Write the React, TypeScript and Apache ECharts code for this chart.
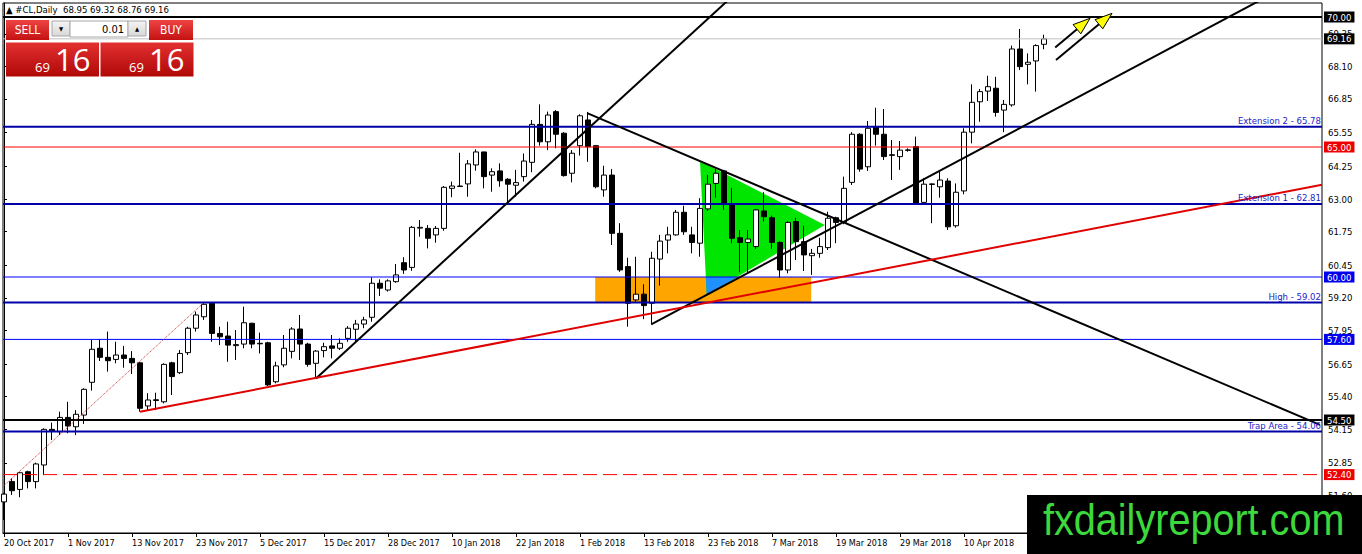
import React, { useEffect, useRef } from "react";
import * as echarts from "echarts";

const FONT = "Tahoma, 'DejaVu Sans Condensed', 'DejaVu Sans', sans-serif";
const MONTHS = ["Jan", "Feb", "Mar", "Apr", "May", "Jun", "Jul", "Aug", "Sep", "Oct", "Nov", "Dec"];

// daily bars, 20 Oct 2017 .. 24 Apr 2018
const opens = [
  51.35, 52.13, 51.83, 52.51, 52.13, 52.77, 54.14, 54.05, 54.6, 54.24, 54.69, 55.95, 57.26, 56.91, 56.83, 57.0,
  56.87, 56.7, 55.04, 55.25, 55.2, 56.7, 56.32, 57.09, 58.03, 58.47, 58.99, 57.83, 57.73, 57.36, 57.42, 58.22,
  57.45, 57.47, 55.97, 56.62, 57.14, 58.0, 57.42, 56.68, 57.17, 57.35, 57.26, 57.64, 57.99, 58.19, 58.45, 59.76,
  59.5, 59.82, 60.55, 60.37, 61.88, 61.87, 61.62, 61.87, 63.41, 63.48, 63.58, 64.31, 64.81, 63.92, 64.08, 63.76,
  63.53, 63.86, 64.41, 65.87, 65.2, 66.36, 65.53, 63.99, 65.05, 66.04, 65.05, 63.35, 63.92, 61.68, 60.4, 59.12,
  59.34, 58.99, 60.69, 61.42, 61.62, 62.49, 61.62, 61.3, 62.62, 63.6, 64.08, 62.77, 61.51, 61.33, 61.17, 62.54,
  62.28, 61.33, 60.27, 62.13, 61.36, 60.82, 60.91, 61.13, 62.28, 62.1, 63.64, 65.49, 64.24, 65.78, 65.49, 64.7,
  64.63, 64.87, 65.01, 62.87, 63.56, 63.47, 63.69, 61.97, 63.31, 65.57, 66.74, 67.15, 67.26, 66.42, 66.62, 68.77,
  68.18, 68.31, 68.95,
];
const highs = [
  51.7, 52.26, 52.51, 52.55, 52.86, 54.18, 54.4, 54.82, 55.2, 54.88, 55.72, 57.58, 57.6, 57.9, 57.51, 57.35,
  57.15, 56.74, 55.53, 55.55, 56.68, 56.74, 57.19, 58.09, 58.67, 58.99, 59.03, 58.09, 58.28, 57.96, 58.86, 58.24,
  57.86, 57.51, 56.74, 57.77, 58.07, 58.54, 57.47, 57.19, 57.47, 57.77, 57.64, 58.11, 58.35, 58.47, 59.99, 59.91,
  59.91, 60.5, 60.76, 61.96, 62.19, 62.0, 61.96, 63.5, 63.67, 64.78, 64.5, 64.91, 64.82, 64.18, 64.37, 63.8,
  64.12, 64.75, 66.04, 66.64, 66.36, 66.42, 65.57, 64.88, 66.26, 66.35, 65.08, 64.28, 64.15, 62.07, 60.74, 60.78,
  59.72, 60.97, 61.62, 61.93, 62.58, 62.74, 61.93, 63.03, 63.92, 64.15, 64.12, 63.43, 61.81, 61.81, 62.62, 63.26,
  62.36, 61.38, 62.15, 62.28, 61.97, 61.08, 61.51, 62.51, 62.32, 63.86, 65.57, 65.53, 66.0, 66.51, 66.46, 65.27,
  65.23, 64.95, 65.4, 63.8, 63.6, 64.05, 63.8, 63.6, 65.72, 67.41, 67.23, 67.74, 67.7, 66.81, 68.9, 69.54,
  68.6, 68.95, 69.32,
];
const lows = [
  50.65, 51.62, 51.53, 51.87, 51.87, 52.38, 53.73, 53.92, 53.99, 53.92, 54.35, 55.63, 56.77, 56.36, 56.68, 56.51,
  56.27, 54.82, 54.88, 54.88, 55.14, 55.46, 56.27, 57.0, 57.9, 58.35, 57.51, 57.38, 56.74, 56.81, 57.26, 57.26,
  57.06, 55.81, 55.91, 56.53, 56.87, 56.81, 56.55, 56.1, 56.91, 56.87, 57.19, 57.51, 57.51, 58.03, 58.28, 59.27,
  59.44, 59.78, 60.12, 60.24, 61.55, 61.1, 61.32, 61.78, 63.07, 63.47, 63.09, 64.09, 63.41, 63.28, 63.47, 62.83,
  63.09, 63.67, 64.03, 65.05, 64.88, 64.95, 63.86, 63.64, 64.67, 64.43, 63.41, 63.09, 61.23, 60.2, 58.09, 59.05,
  58.38, 58.18, 59.67, 60.91, 61.59, 61.62, 60.91, 60.78, 62.54, 63.05, 62.58, 61.3, 60.18, 60.18, 61.08, 62.13,
  61.08, 59.97, 60.14, 60.65, 60.23, 60.08, 60.74, 61.04, 61.3, 62.03, 63.54, 64.05, 64.08, 65.05, 64.5, 63.73,
  64.12, 64.82, 62.83, 62.83, 62.07, 63.05, 61.81, 61.9, 63.18, 65.14, 65.97, 66.77, 66.17, 65.57, 66.55, 67.96,
  67.41, 67.13, 68.76,
];
const closes = [
  51.65, 51.78, 52.47, 52.13, 52.81, 54.14, 54.09, 54.6, 54.27, 54.72, 55.68, 57.22, 56.91, 56.78, 57.0, 56.87,
  56.7, 54.95, 55.27, 55.28, 56.64, 56.17, 57.06, 58.03, 58.54, 58.95, 57.83, 57.7, 57.38, 57.4, 58.24, 57.42,
  57.43, 55.85, 56.58, 57.26, 58.0, 57.42, 56.64, 57.15, 57.32, 57.26, 57.45, 58.03, 58.19, 58.35, 59.76, 59.57,
  59.85, 60.08, 60.27, 61.91, 61.91, 61.49, 61.87, 63.45, 63.5, 63.5, 64.35, 64.81, 63.86, 64.05, 63.7, 63.57,
  63.63, 64.46, 65.87, 65.2, 66.23, 65.49, 63.9, 64.76, 66.2, 65.01, 63.47, 63.92, 61.68, 60.27, 58.99, 59.34,
  58.9, 60.72, 61.38, 61.62, 62.49, 61.74, 61.33, 62.64, 63.57, 63.99, 62.83, 61.49, 61.33, 61.46, 62.58, 62.32,
  61.33, 60.27, 62.1, 61.36, 60.85, 60.91, 61.17, 62.26, 62.1, 63.41, 65.49, 64.15, 65.72, 65.49, 64.63, 64.68,
  64.88, 64.89, 62.83, 63.57, 63.58, 63.73, 61.93, 63.26, 65.57, 66.72, 67.13, 67.32, 66.33, 66.64, 68.77, 68.09,
  68.26, 68.9, 69.16,
];

const holidays = ["2017-12-25", "2018-01-01"];
const slotCount = 166;
const yTicks = [51.6, 52.85, 54.15, 55.4, 56.65, 57.95, 59.2, 60.45, 61.75, 63.0, 64.25, 65.55, 66.85, 68.1, 69.35];

// horizontal levels
const levels = [
  { value: 70.0, kind: "blackBox" },
  { value: 69.16, kind: "bid" },
  { value: 65.78, kind: "blueText", text: "Extension 2 - 65.78" },
  { value: 65.0, kind: "redBox" },
  { value: 62.81, kind: "blueText", text: "Extension 1 - 62.81" },
  { value: 60.0, kind: "blueBox" },
  { value: 59.02, kind: "blueText", text: "High - 59.02" },
  { value: 57.6, kind: "blueBox" },
  { value: 54.5, kind: "blackBox" },
  { value: 54.06, kind: "blueText", text: "Trap Area - 54.06" },
  { value: 52.4, kind: "redDash" },
];

// trend lines [bar index, price]
const steepLine = [[39, 56.1], [94, 71.63]];
const fallingLine = [[72.9, 66.3], [164.5, 54.31]];
const risingLine = [[80.9, 58.18], [160, 71.13]];
const redLine = [[17, 54.82], [164.75, 63.55]];
const channelLine = [[0, 51.98], [24.9, 58.99]];

// filled zones
const orangeZone = [[73.9, 60.0], [100.9, 60.0], [100.9, 59.02], [73.9, 59.02]];
const greenZone = [[87, 64.46], [102.6, 62.0], [87.84, 59.31]];
const blueZone = [[87.73, 60.0], [91.63, 60.0], [87.84, 59.31]];

const arrowsFrom = [[131.4, 68.83], [131.5, 68.35]];
const arrowsTo = [[135.75, 69.95], [138.5, 70.14]];

const X_MIN = -0.125;
const X_MAX = X_MIN + 1319 / 8;
const Y_MAX = 70 + 14 / 26;
const Y_MIN = Y_MAX - 530 / 26;

function buildDates(): string[] {
  const out: string[] = [];
  const d = new Date(Date.UTC(2017, 9, 20));
  while (out.length < slotCount) {
    const iso = d.toISOString().slice(0, 10);
    const wd = d.getUTCDay();
    if (wd !== 0 && wd !== 6 && !holidays.includes(iso)) {
      out.push(`${d.getUTCDate()} ${MONTHS[d.getUTCMonth()]} ${d.getUTCFullYear()}`);
    }
    d.setUTCDate(d.getUTCDate() + 1);
  }
  return out;
}

const levelStyle: Record<string, any> = {
  blackBox: { line: { color: "#000000", width: 2, type: "solid" }, box: "#000" },
  bid: { line: { color: "#c0c0c0", width: 1, type: "solid" }, box: "#000" },
  redBox: { line: { color: "#ff0000", width: 1, type: "solid" }, box: "#ee0000" },
  blueBox: { line: { color: "#0000ff", width: 1, type: "solid" }, box: "#0000ee" },
  blueText: { line: { color: "#0000a8", width: 2, type: "solid" } },
  redDash: { line: { color: "#ff0000", width: 1, type: [14, 6] }, box: "#ee0000" },
};

const App: React.FC = () => {
  const chartRef = useRef<HTMLDivElement>(null);

  useEffect(() => {
    if (!chartRef.current) return;
    document.body.style.margin = "0";
    const chart = echarts.init(chartRef.current, null, { renderer: "svg" });

    const dates = buildDates();
    const xTicks: number[] = [];
    for (let i = 0; i < slotCount - 1; i += 8) xTicks.push(i);

    const candles = opens.map((o, i) => [i, o, closes[i], lows[i], highs[i]]);

    const redGrad = new echarts.graphic.LinearGradient(0, 0, 0, 1, [
      { offset: 0, color: "#ee4444" },
      { offset: 1, color: "#c41212" },
    ]);
    const bigGrad = new echarts.graphic.LinearGradient(0, 0, 0, 1, [
      { offset: 0, color: "#e23030" },
      { offset: 1, color: "#b00808" },
    ]);
    const greyGrad = new echarts.graphic.LinearGradient(0, 0, 0, 1, [
      { offset: 0, color: "#f4f4f4" },
      { offset: 1, color: "#d8d8d8" },
    ]);

    const trend = (data: number[][], color: string, width: number, type: any = "solid", z = 4) => ({
      type: "line",
      data,
      z,
      showSymbol: false,
      silent: true,
      clip: true,
      lineStyle: { color, width, type, opacity: 1 },
    });

    const zones = [
      { pts: orangeZone, fill: "#ffa500" },
      { pts: greenZone, fill: "#00e600" },
      { pts: blueZone, fill: "#1e90ff" },
    ];

    const txt = (x: number, y: number, text: string, fontSize: number, fill: string, align = "left", extra: any = {}) => ({
      type: "text",
      x,
      y,
      z: 100,
      silent: true,
      style: { text, fill, fontSize, fontFamily: FONT, align, verticalAlign: "middle", ...extra },
    });

    // level lines as plain line series across the whole plot
    const levelSeries = levels.map((lv) => {
      const st = levelStyle[lv.kind].line;
      return trend([[X_MIN, lv.value], [X_MAX, lv.value]], st.color, st.width, st.type, 3);
    });

    const option = {
      animation: false,
      backgroundColor: "#fff",
      grid: { left: 3, top: 3, right: 40, bottom: 21, show: true, borderColor: "#000", borderWidth: 1 },
      xAxis: {
        type: "value",
        min: X_MIN,
        max: X_MAX,
        splitLine: { show: false },
        axisLine: { show: true, lineStyle: { color: "#000", width: 1 } },
        axisTick: { show: true, length: 4, customValues: xTicks, lineStyle: { color: "#000" } },
        axisLabel: {
          customValues: xTicks,
          formatter: (v: number) => dates[Math.round(v)] ?? "",
          align: "left",
          margin: 5,
          color: "#000",
          fontSize: 9,
          fontFamily: FONT,
        },
      },
      yAxis: {
        type: "value",
        position: "right",
        min: Y_MIN,
        max: Y_MAX,
        splitLine: { show: false },
        axisLine: { show: true, lineStyle: { color: "#000", width: 1 } },
        axisTick: { show: true, length: 3, customValues: yTicks, lineStyle: { color: "#000" } },
        axisLabel: {
          customValues: yTicks,
          formatter: (v: number) => v.toFixed(2),
          margin: 6,
          color: "#000",
          fontSize: 9.5,
          fontFamily: FONT,
        },
      },
      series: [
        {
          type: "custom",
          z: 1,
          silent: true,
          data: zones.map((z) => z.pts[0]),
          renderItem: (params: any, api: any) => {
            const zone = zones[params.dataIndex];
            return {
              type: "polygon",
              shape: { points: zone.pts.map((p) => api.coord(p)) },
              style: { fill: zone.fill },
            };
          },
        },
        {
          type: "candlestick",
          z: 2,
          silent: true,
          data: candles,
          encode: { x: 0, y: [1, 2, 3, 4] },
          barWidth: 5,
          itemStyle: {
            color: "#ffffff",
            color0: "#000000",
            borderColor: "#000000",
            borderColor0: "#000000",
            borderWidth: 1,
          },
          markLine: {
            symbol: ["none", "none"],
            silent: true,
            animation: false,
            z: 5,
            data: levels.map((lv) => {
              const st = levelStyle[lv.kind];
              const label =
                lv.kind === "blueText"
                  ? {
                      show: true,
                      position: "insideEndTop",
                      distance: 1,
                      formatter: lv.text,
                      color: "#2222c8",
                      fontSize: 9.5,
                      fontFamily: FONT,
                    }
                  : {
                      show: true,
                      position: "end",
                      distance: 2,
                      formatter: lv.value.toFixed(2),
                      color: "#fff",
                      backgroundColor: st.box,
                      padding: [1, 3, 0, 3],
                      lineHeight: 10,
                      fontSize: 9.5,
                      fontFamily: FONT,
                    };
              // the line itself is drawn by a line series; keep only the label here
              return { yAxis: lv.value, lineStyle: { color: "rgba(0,0,0,0)", width: 1 }, label };
            }),
          },
        },
        ...levelSeries,
        trend(steepLine, "#000", 2),
        trend(fallingLine, "#000", 2),
        trend(risingLine, "#000", 2),
        trend(redLine, "#e00000", 2),
        trend(channelLine, "#d03030", 1, "dotted"),
        {
          type: "custom",
          z: 6,
          silent: true,
          data: arrowsFrom,
          renderItem: (params: any, api: any) => {
            const p0 = api.coord(arrowsFrom[params.dataIndex]);
            const p1 = api.coord(arrowsTo[params.dataIndex]);
            const dx = p1[0] - p0[0];
            const dy = p1[1] - p0[1];
            const len = Math.hypot(dx, dy);
            const ux = dx / len;
            const uy = dy / len;
            const headLen = 17;
            const headW = 6;
            const bx = p1[0] - ux * headLen;
            const by = p1[1] - uy * headLen;
            return {
              type: "group",
              children: [
                {
                  type: "line",
                  shape: { x1: p0[0], y1: p0[1], x2: bx, y2: by },
                  style: { stroke: "#000", lineWidth: 2 },
                },
                {
                  type: "polygon",
                  shape: {
                    points: [p1, [bx - uy * headW, by + ux * headW], [bx + uy * headW, by - ux * headW]],
                  },
                  style: { fill: "#ffff00", stroke: "#000", lineWidth: 1 },
                },
              ],
            };
          },
        },
      ],
      graphic: [
        txt(6, 9, "▲ #CL,Daily  68.95 69.32 68.76 69.16", 9.5, "#000"),
        // one-click trading panel
        { type: "rect", z: 100, silent: true, shape: { x: 6, y: 20, width: 43, height: 20 }, style: { fill: redGrad } },
        { type: "rect", z: 100, silent: true, shape: { x: 149, y: 20, width: 44, height: 20 }, style: { fill: redGrad } },
        { type: "rect", z: 100, silent: true, shape: { x: 52, y: 21, width: 18, height: 15 }, style: { fill: greyGrad, stroke: "#a8a8a8", lineWidth: 1 } },
        { type: "rect", z: 100, silent: true, shape: { x: 70, y: 21, width: 58, height: 16 }, style: { fill: "#fff", stroke: "#a8a8a8", lineWidth: 1 } },
        { type: "rect", z: 100, silent: true, shape: { x: 128, y: 21, width: 18, height: 15 }, style: { fill: greyGrad, stroke: "#a8a8a8", lineWidth: 1 } },
        { type: "rect", z: 100, silent: true, shape: { x: 6, y: 42.5, width: 93, height: 34 }, style: { fill: bigGrad } },
        { type: "rect", z: 100, silent: true, shape: { x: 100.5, y: 42.5, width: 93, height: 34 }, style: { fill: bigGrad } },
        txt(27.5, 30, "SELL", 12, "#fff", "center"),
        txt(171, 30, "BUY", 12, "#fff", "center"),
        txt(61, 28.5, "▼", 6, "#000", "center"),
        txt(137, 28.5, "▲", 6, "#000", "center"),
        txt(124, 29, "0.01", 11, "#000", "right"),
        txt(35, 66.5, "69", 13, "#fff", "left", { fontFamily: "'Open Sans', 'Liberation Sans', sans-serif" }),
        txt(55, 58.5, "16", 31, "#fff", "left", { fontFamily: "'Open Sans', 'Liberation Sans', sans-serif" }),
        txt(129, 66.5, "69", 13, "#fff", "left", { fontFamily: "'Open Sans', 'Liberation Sans', sans-serif" }),
        txt(149, 58.5, "16", 31, "#fff", "left", { fontFamily: "'Open Sans', 'Liberation Sans', sans-serif" }),
        // watermark
        { type: "rect", z: 100, silent: true, shape: { x: 1027, y: 495, width: 335, height: 59 }, style: { fill: "#000" } },
        {
          type: "text",
          z: 101,
          silent: true,
          x: 1043,
          y: 520,
          scaleX: 0.9,
          style: {
            text: "fxdailyreport.com",
            fill: "#3cd83c",
            fontSize: 44,
            fontFamily: "'Liberation Sans', Arial, sans-serif",
            align: "left",
            verticalAlign: "middle",
          },
        },
      ],
    };

    chart.setOption(option as any);

    return () => {
      chart.dispose();
    };
  }, []);

  return <div ref={chartRef} style={{ width: "1362px", height: "554px" }} />;
};

export default App;
